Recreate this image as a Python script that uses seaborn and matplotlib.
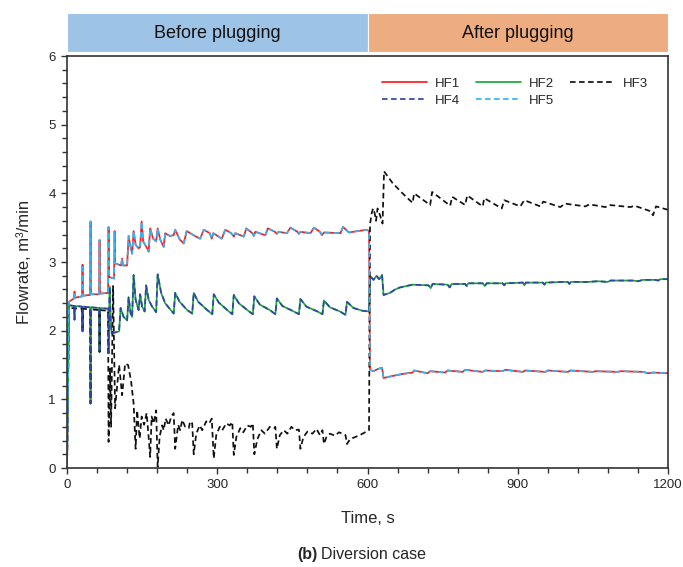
#-------------------------------------------------------------------------------------------
# Flowrate of each hydraulic fracture (HF1-HF5), before and after plugging - diversion case
#-------------------------------------------------------------------------------------------

import numpy as np
import pandas as pd
import matplotlib
matplotlib.use("Agg")
import matplotlib.pyplot as plt
import seaborn as sns

#-------------------------------------------------------------------------------------------
# DATA  (time in s, flowrate in m3/min)
#-------------------------------------------------------------------------------------------

# HF1 (HF5 lies on top of it)
hf1_points = [
    (0, 0.0), (4, 2.42), (14, 2.47), (15, 2.57), (16, 2.48), (30, 2.50), (31, 2.96), (32, 2.51),
    (46, 2.52), (47, 3.59), (48, 2.53), (64, 2.53), (65, 3.32), (66, 2.54), (82, 2.55), (83, 3.51),
    (84, 2.78), (94, 2.76), (95, 3.45), (96, 2.98), (108, 2.95), (110, 3.05), (112, 2.95), (120, 2.95),
    (123, 3.38), (126, 3.25), (130, 3.12), (133, 3.45), (137, 3.25), (143, 3.20), (146, 3.22), (149, 3.59),
    (152, 3.30), (160, 3.20), (163, 3.15), (166, 3.49), (172, 3.34), (178, 3.30), (181, 3.49), (186, 3.33),
    (193, 3.22), (196, 3.42), (205, 3.38), (213, 3.39), (216, 3.47), (225, 3.33), (233, 3.27), (239, 3.45),
    (255, 3.38), (266, 3.34), (273, 3.47), (285, 3.42), (289, 3.34), (292, 3.42), (309, 3.34), (316, 3.47),
    (328, 3.42), (333, 3.37), (336, 3.42), (353, 3.37), (358, 3.49), (370, 3.42), (373, 3.38), (376, 3.44),
    (396, 3.39), (401, 3.49), (415, 3.44), (419, 3.41), (422, 3.44), (439, 3.42), (446, 3.50), (460, 3.44),
    (463, 3.41), (466, 3.44), (486, 3.42), (493, 3.50), (505, 3.44), (509, 3.39), (513, 3.43), (546, 3.42),
    (551, 3.51), (563, 3.43), (580, 3.45), (599, 3.47), (603, 3.45),
    (605, 1.43), (612, 1.41), (620, 1.44), (629, 1.46), (632, 1.31), (650, 1.34), (670, 1.37), (690, 1.39),
    (693, 1.42), (720, 1.38), (725, 1.41), (755, 1.39), (760, 1.42), (790, 1.40), (795, 1.43), (830, 1.40),
    (835, 1.42), (870, 1.41), (875, 1.43), (910, 1.40), (915, 1.42), (955, 1.40), (960, 1.42), (1000, 1.40),
    (1005, 1.42), (1050, 1.40), (1055, 1.41), (1100, 1.40), (1105, 1.41), (1150, 1.40), (1160, 1.38),
    (1170, 1.39), (1200, 1.38),
]

# HF2 (HF4 lies on top of it)
hf2_points = [
    (0, 0.0), (4, 2.37), (14, 2.36), (15, 2.16), (16, 2.36), (30, 2.35), (31, 1.99), (32, 2.35),
    (46, 2.34), (47, 0.94), (48, 2.34), (64, 2.33), (65, 1.69), (66, 2.33), (82, 2.32), (83, 1.67),
    (85, 2.64), (87, 2.20), (89, 1.96), (104, 1.99), (107, 2.33), (113, 2.20), (120, 2.15), (123, 2.49),
    (127, 2.25), (130, 2.20), (133, 2.81), (137, 2.45), (143, 2.30), (146, 2.53), (150, 2.35), (155, 2.28),
    (158, 2.66), (163, 2.45), (170, 2.35), (178, 2.27), (181, 2.82), (188, 2.55), (196, 2.40), (205, 2.32),
    (213, 2.25), (216, 2.55), (225, 2.42), (240, 2.30), (250, 2.25), (253, 2.55), (262, 2.42), (280, 2.30),
    (290, 2.24), (293, 2.53), (303, 2.41), (320, 2.30), (330, 2.24), (333, 2.52), (343, 2.40), (360, 2.30),
    (371, 2.24), (374, 2.50), (385, 2.38), (405, 2.30), (416, 2.24), (419, 2.47), (430, 2.36), (450, 2.29),
    (463, 2.24), (466, 2.46), (478, 2.35), (500, 2.28), (510, 2.24), (513, 2.44), (525, 2.34), (545, 2.28),
    (556, 2.23), (559, 2.42), (572, 2.33), (590, 2.29), (603, 2.28),
    (605, 2.80), (612, 2.74), (618, 2.80), (623, 2.75), (629, 2.81), (632, 2.52), (645, 2.55), (655, 2.60),
    (665, 2.63), (690, 2.67), (722, 2.66), (726, 2.62), (730, 2.68), (760, 2.67), (764, 2.63), (768, 2.68),
    (795, 2.68), (798, 2.65), (801, 2.69), (830, 2.69), (834, 2.65), (838, 2.69), (870, 2.69), (873, 2.66),
    (876, 2.69), (910, 2.70), (913, 2.66), (916, 2.70), (950, 2.70), (953, 2.67), (956, 2.70), (990, 2.71),
    (1000, 2.71), (1003, 2.68), (1006, 2.71), (1040, 2.71), (1060, 2.72), (1080, 2.71), (1085, 2.73),
    (1110, 2.73), (1130, 2.73), (1140, 2.72), (1150, 2.74), (1175, 2.74), (1180, 2.73), (1185, 2.75),
    (1200, 2.75),
]

# HF3
hf3_points = [
    (0, 0.0), (4, 2.33), (30, 2.32), (31, 1.99), (32, 2.32), (46, 2.31), (47, 0.94), (48, 2.31),
    (64, 2.30), (65, 1.69), (66, 2.30), (82, 2.29), (83, 0.38), (86, 1.45), (88, 0.60), (92, 2.65),
    (96, 0.87), (104, 1.50), (110, 1.06), (116, 1.52), (122, 1.50), (128, 1.26), (133, 0.94), (137, 0.28),
    (140, 0.84), (145, 0.43), (149, 0.75), (154, 0.63), (159, 0.80), (163, 0.45), (166, 0.16), (169, 0.75),
    (173, 0.65), (178, 0.84), (181, 0.02), (185, 0.46), (190, 0.62), (193, 0.55), (197, 0.72), (203, 0.62),
    (208, 0.75), (213, 0.80), (216, 0.28), (222, 0.63), (226, 0.55), (230, 0.70), (236, 0.60), (243, 0.58),
    (246, 0.68), (250, 0.65), (253, 0.20), (258, 0.50), (265, 0.62), (270, 0.55), (278, 0.68), (284, 0.65),
    (289, 0.72), (293, 0.14), (298, 0.48), (305, 0.60), (310, 0.55), (318, 0.65), (325, 0.62), (330, 0.67),
    (333, 0.19), (338, 0.45), (346, 0.58), (352, 0.52), (360, 0.62), (367, 0.60), (371, 0.65), (374, 0.20),
    (380, 0.42), (388, 0.55), (395, 0.50), (405, 0.60), (413, 0.58), (416, 0.60), (419, 0.28), (425, 0.48),
    (433, 0.55), (440, 0.50), (448, 0.60), (455, 0.55), (463, 0.56), (466, 0.28), (472, 0.45), (480, 0.53),
    (490, 0.50), (498, 0.57), (505, 0.48), (510, 0.55), (513, 0.35), (518, 0.45), (525, 0.50), (535, 0.47),
    (543, 0.52), (550, 0.50), (556, 0.48), (559, 0.35), (565, 0.42), (575, 0.45), (585, 0.48), (595, 0.52),
    (603, 0.55),
    (605, 3.55), (608, 3.70), (611, 3.78), (614, 3.72), (617, 3.60), (620, 3.78), (625, 3.68), (630, 3.56),
    (633, 4.32), (650, 4.15), (670, 4.00), (690, 3.86), (693, 4.00), (725, 3.83), (729, 4.02), (765, 3.82),
    (769, 3.95), (795, 3.83), (799, 3.97), (830, 3.81), (833, 3.93), (868, 3.78), (873, 3.90), (905, 3.81),
    (913, 3.90), (945, 3.81), (951, 3.88), (985, 3.80), (994, 3.85), (1035, 3.81), (1043, 3.84),
    (1075, 3.80), (1083, 3.83), (1125, 3.80), (1133, 3.82), (1165, 3.74), (1170, 3.68), (1176, 3.81),
    (1200, 3.76),
]

# HF4 and HF5 follow HF2 and HF1
hf4_points = list(hf2_points)
hf5_points = list(hf1_points)

stage_labels = ["Before plugging", "After plugging"]
stage_edges = [0, 600, 1200]
x_ticks = [0, 300, 600, 900, 1200]
y_ticks = [0, 1, 2, 3, 4, 5, 6]

#-------------------------------------------------------------------------------------------
# STYLE
#-------------------------------------------------------------------------------------------
sns.set_style("ticks")
plt.rcParams["font.family"] = ["Liberation Sans", "DejaVu Sans"]

series = [
    ("HF1", hf1_points, "#ff1a1a", "-"),
    ("HF2", hf2_points, "#1aa83a", "-"),
    ("HF3", hf3_points, "#111111", (0, (3.2, 2.0))),
    ("HF4", hf4_points, "#3345a8", (0, (3.2, 2.0))),
    ("HF5", hf5_points, "#35b4ef", (0, (3.2, 2.0))),
]

#-------------------------------------------------------------------------------------------
# PLOT
#-------------------------------------------------------------------------------------------
fig = plt.figure(figsize=(6.83, 5.67), dpi=100)
ax = fig.add_axes([0.0981, 0.1746, 0.880, 0.7266])

handles = {}
for name, pts, color, ls in series:
    df = pd.DataFrame(pts, columns=["time", "flow"])
    sns.lineplot(data=df, x="time", y="flow", ax=ax, color=color, linestyle=ls,
                 linewidth=1.25, estimator=None, sort=False, label=name)
    handles[name] = ax.lines[-1]

ax.set_xlim(0, 1200)
ax.set_ylim(0, 6)
ax.set_xticks(x_ticks)
ax.set_yticks(y_ticks)
ax.set_xticks(np.arange(0, 1201, 60), minor=True)
ax.set_yticks(np.arange(0, 6.01, 0.2), minor=True)
ax.tick_params(which="major", length=4, width=1, color="#333333", labelsize=9.5, pad=4)
ax.tick_params(which="minor", length=3.5, width=1, color="#333333")
for s in ax.spines.values():
    s.set_color("#333333")
    s.set_linewidth(1.2)

ax.set_xlabel("Time, s", fontsize=12, labelpad=14)
ax.set_ylabel("Flowrate, m³/min", fontsize=12, labelpad=12)

# Legend: HF1 HF2 HF3 / HF4 HF5 (matplotlib fills column by column)
order = ["HF1", "HF4", "HF2", "HF5", "HF3"]
ax.legend([handles[k] for k in order], order, ncol=3, frameon=False, fontsize=9.5,
          loc="upper right", bbox_to_anchor=(0.975, 0.96), borderaxespad=0,
          handlelength=3.4, handletextpad=0.6, columnspacing=1.2, labelspacing=0.35)

# Stage header above the axes
hax = fig.add_axes([0.0981, 0.908, 0.880, 0.0688])
hax.set_xlim(0, 1200)
hax.set_ylim(0, 1)
hax.axvspan(stage_edges[0], stage_edges[1], color="#9dc3e6", ec="white", lw=0.8)
hax.axvspan(stage_edges[1], stage_edges[2], color="#eead80", ec="white", lw=0.8)
for i, lab in enumerate(stage_labels):
    mid = (stage_edges[i] + stage_edges[i + 1]) / 2
    hax.text(mid, 0.47, lab, ha="center", va="center", fontsize=13, color="#111111")
hax.axis("off")

# Caption
fig.text(0.465, 0.022, "(b)", fontsize=11.5, fontweight="bold", ha="right", va="center")
fig.text(0.470, 0.022, "Diversion case", fontsize=11.5, ha="left", va="center")

fig.savefig("out.png", dpi=100)
